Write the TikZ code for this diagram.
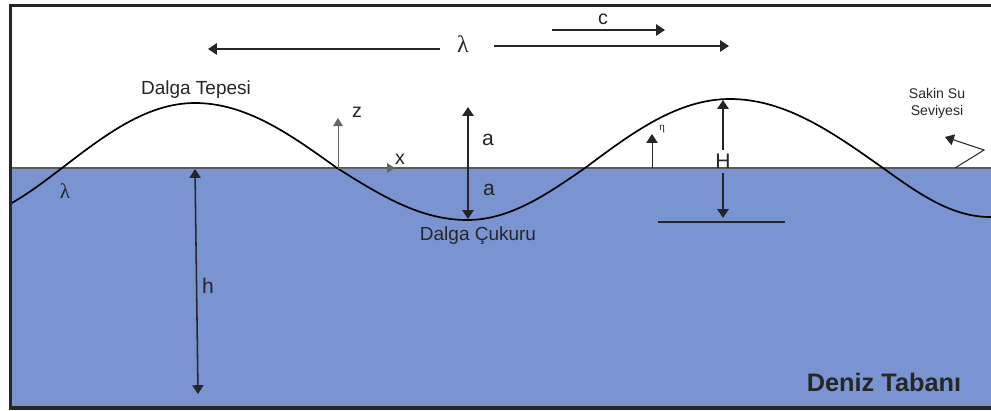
\documentclass[tikz,border=0pt]{standalone}
\usepackage{fontspec}
\setmainfont{Liberation Sans}
\newfontfamily\greekserif{Liberation Serif}
\usetikzlibrary{arrows.meta}
\usepackage{xcolor}
\definecolor{seablue}{RGB}{122,148,210}
\definecolor{inkgray}{RGB}{38,38,38}

\begin{document}
\begin{tikzpicture}[
    x=0.025cm, y=-0.025cm,
    lbl/.style={font=\fontsize{14}{16}\selectfont, text=inkgray, inner sep=0pt},
    smalllbl/.style={font=\fontsize{10}{12}\selectfont, text=inkgray, inner sep=0pt, align=center},
    dimarrow/.style={-{Triangle[length=2.2mm, width=2.8mm]}, line width=1.1pt, inkgray},
    twoarrow/.style={{Triangle[length=2.2mm, width=2.8mm]}-{Triangle[length=2.2mm, width=2.8mm]}, line width=1.1pt, inkgray},
    axisarrow/.style={-{Triangle[length=2mm, width=2.4mm]}, line width=0.7pt, gray!80!black},
    wave/.style={line width=1.2pt, black}
]
\useasboundingbox (0,0) rectangle (991,410);

% water body and still water level
\fill[seablue] (10,168) rectangle (991,408);
\draw[gray!70!black, line width=0.8pt] (10,168) -- (991,168);

% free surface
\begin{scope}
\clip (10,0) rectangle (991,410);
\draw[wave] (-45,220) cos (62,168) sin (195,103) cos (337,168) sin (467,220)
    cos (585,168) sin (730,99) cos (883,168) sin (990,217) cos (1100,168);
\end{scope}

% wave length and celerity
\node[lbl, font=\fontsize{17}{19}\greekserif] (lam) at (463,44) {λ};
\coordinate (lamAs) at (440,49);
\coordinate (lamAe) at (208,49);
\coordinate (lamBs) at (494,46);
\coordinate (lamBe) at (729,46);
\draw[dimarrow] (lamAs) -- (lamAe);
\draw[dimarrow] (lamBs) -- (lamBe);

\node[lbl] (cel) at (603,19) {c};
\coordinate (celS) at (552,30);
\coordinate (celE) at (665,30);
\draw[dimarrow] (celS) -- (celE);

% axes
\coordinate (orig) at (338,168);
\coordinate (zTip) at (338,118);
\coordinate (xTip) at (395,168);
\draw[axisarrow] (orig) -- (zTip);
\draw[axisarrow] (orig) -- (xTip);
\node[lbl] (zlab) at (357,112) {z};
\node[lbl] (xlab) at (400,159) {x};

% amplitude
\coordinate (aTop) at (468,107);
\coordinate (aBot) at (468,219);
\draw[twoarrow] (aTop) -- (aBot);
\node[lbl, font=\fontsize{15}{17}\selectfont] (a1) at (488,140) {a};
\node[lbl, font=\fontsize{15}{17}\selectfont] (a2) at (489,190) {a};

% depth
\coordinate (hTop) at (195,169);
\coordinate (hBot) at (198,394);
\draw[twoarrow] (hTop) -- (hBot);
\node[lbl, font=\fontsize{15}{17}\selectfont] (hlab) at (208,286) {h};

% surface elevation
\coordinate (etaS) at (652,168);
\coordinate (etaE) at (652,134);
\draw[dimarrow, line width=0.7pt] (etaS) -- (etaE);
\node[lbl, font=\fontsize{8}{9}\greekserif] (etalab) at (662,129) {η};

% wave height
\node[lbl, font=\fontsize{15}{17}\selectfont] (Hlab) at (723,161) {H};
\coordinate (Hup) at (723,100);
\coordinate (Hdn) at (723,218);
\draw[dimarrow] (Hlab.north) ++(0,-3) -- (Hup);
\draw[dimarrow] (Hlab.south) ++(0,4) -- (Hdn);
\coordinate (trL) at (658,222);
\coordinate (trR) at (785,222);
\draw[inkgray, line width=0.9pt] (trL) -- (trR);

% still water level label
\node[smalllbl] (swl) at (937,103) {Sakin Su\\Seviyesi};
\coordinate (swlA) at (955,168);
\coordinate (swlB) at (984,150);
\coordinate (swlC) at (945,137);
\draw[dimarrow, line width=0.7pt] (swlA) -- (swlB) -- (swlC);

% other labels
\node[lbl, font=\fontsize{15}{17}\greekserif] (lamS) at (65,191) {λ};
\node[lbl, font=\fontsize{13.5}{16}\selectfont] (crest) at (196,90) {Dalga Tepesi};
\node[lbl, font=\fontsize{13.5}{16}\selectfont] (trough) at (478,236) {Dalga Çukuru};
\node[lbl, font=\fontsize{18}{20}\bfseries] (bed) at (884,382) {Deniz Tabanı};

% frame
\draw[inkgray, line width=2.2pt] (991,5.5) -- (10.5,5.5) -- (10.5,408) -- (991,408);
\end{tikzpicture}
\end{document}
